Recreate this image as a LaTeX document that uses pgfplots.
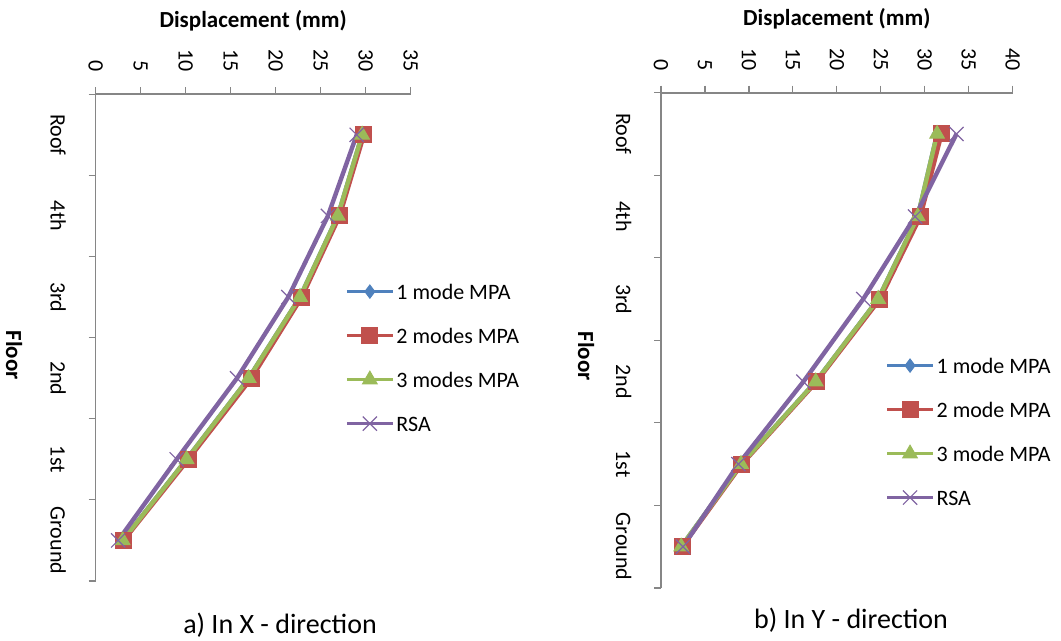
\documentclass[border=0pt]{standalone}
\usepackage{fontspec}
\setmainfont{Carlito}
\usepackage{pgfplots}
\pgfplotsset{compat=1.18}
\definecolor{mpa1}{HTML}{4F81BD}
\definecolor{mpa2}{HTML}{C0504D}
\definecolor{mpa3}{HTML}{9BBB59}
\definecolor{rsa}{HTML}{8064A2}
\definecolor{axgray}{HTML}{868686}

\pgfplotsset{
  dispfloor/.style={
    scale only axis, anchor=south west,
    axis x line*=top, axis y line*=left,
    axis line style={-, draw=axgray, line width=0.8pt},
    tick style={draw=axgray, line width=0.6pt},
    tick align=outside, major tick length=0pt, minor tick length=3.5pt,
    xmin=0, ymin=0.5, ymax=6.5, enlargelimits=false,
    ytick={1,...,6}, yticklabels={Ground,1st,2nd,3rd,4th,Roof},
    minor ytick={0.5,1.5,...,6.5},
    /pgf/number format/assume math mode=true,
    tick label style={font=\fontsize{11}{13}\selectfont, inner sep=0pt},
    xticklabel style={yshift=11pt, rotate=-90, anchor=east},
    yticklabel style={xshift=-22.5pt, rotate=-90, anchor=base},
    xlabel={Displacement (mm)}, ylabel={Floor},
    every axis x label/.style={at={(axis description cs:0.5,1)}, yshift=37pt, anchor=center,
      font=\fontsize{11.5}{13}\selectfont\bfseries},
    legend cell align=left,
    legend image code/.code={\draw[mark repeat=2, mark phase=2, #1, line width=1.6pt] plot coordinates {(0pt,0pt) (11.5pt,0pt) (23pt,0pt)};},
    legend style={draw=none, fill=none, anchor=north west, inner sep=0pt, row sep=12pt,
      font=\fontsize{11}{13}\selectfont, nodes={inner sep=1pt, text height=8pt, text depth=0pt}},
    clip=false,
  },
  s1/.style={mpa1, line width=2.2pt, mark=diamond*, mark size=3.3pt, mark options={solid, line width=0.5pt}},
  s2/.style={mpa2, line width=2.2pt, mark=square*, mark size=4pt, mark options={solid, line width=0.5pt}},
  s3/.style={mpa3, line width=2.2pt, mark=triangle*, mark size=4.2pt, mark options={solid, line width=0.5pt}},
  s4/.style={rsa, line width=2.2pt, mark=x, mark size=5pt, mark options={solid, line width=0.6pt}},
}

\begin{document}
\begin{tikzpicture}
  \useasboundingbox (0,0) rectangle (530.5pt,320.5pt);

  % a) X direction
  \begin{axis}[dispfloor, at={(47.85pt,30pt)}, width=157.5pt, height=243.35pt,
      xmax=35, xtick={0,5,...,35}, minor xtick={0,5,...,35},
      every axis y label/.style={at={(axis description cs:-0.259,0.464)}, rotate=-90, anchor=center,
        font=\fontsize{11.5}{13}\selectfont\bfseries},
      legend style={at={(axis description cs:0.791,0.616)}}]
    \addplot[s1] coordinates {(3.0,1) (10.1,2) (17.0,3) (22.7,4) (26.9,5) (29.6,6)};
    \addplot[s2] coordinates {(3.1,1) (10.3,2) (17.3,3) (22.9,4) (27.1,5) (29.8,6)};
    \addplot[s3] coordinates {(3.0,1) (10.1,2) (17.0,3) (22.7,4) (26.9,5) (29.6,6)};
    \addplot[s4] coordinates {(2.5,1) (9.0,2) (15.7,3) (21.4,4) (25.8,5) (29.0,6)};
    \legend{1 mode MPA, 2 modes MPA, 3 modes MPA, RSA}
  \end{axis}

  % b) Y direction
  \begin{axis}[dispfloor, at={(330.5pt,26.5pt)}, width=175.85pt, height=247.65pt,
      xmax=40, xtick={0,5,...,40}, minor xtick={0,5,...,40},
      every axis y label/.style={at={(axis description cs:-0.213,0.468)}, rotate=-90, anchor=center,
        font=\fontsize{11.5}{13}\selectfont\bfseries},
      legend style={at={(axis description cs:0.637,0.470)}}]
    \addplot[s1] coordinates {(2.3,1) (9.1,2) (17.6,3) (24.7,4) (29.2,5) (31.4,6)};
    \addplot[s2] coordinates {(2.4,1) (9.2,2) (17.7,3) (24.9,4) (29.5,5) (31.9,6)};
    \addplot[s3] coordinates {(2.3,1) (9.1,2) (17.6,3) (24.7,4) (29.2,5) (31.4,6)};
    \addplot[s4] coordinates {(2.5,1) (8.8,2) (16.2,3) (23.0,4) (28.9,5) (33.6,6)};
    \legend{1 mode MPA, 2 mode MPA, 3 mode MPA, RSA}
  \end{axis}

  \node[font=\fontsize{14}{16}\selectfont] at (140pt,8pt) {a) In X - direction};
  \node[font=\fontsize{14}{16}\selectfont] at (425.5pt,10.5pt) {b) In Y - direction};
\end{tikzpicture}
\end{document}
